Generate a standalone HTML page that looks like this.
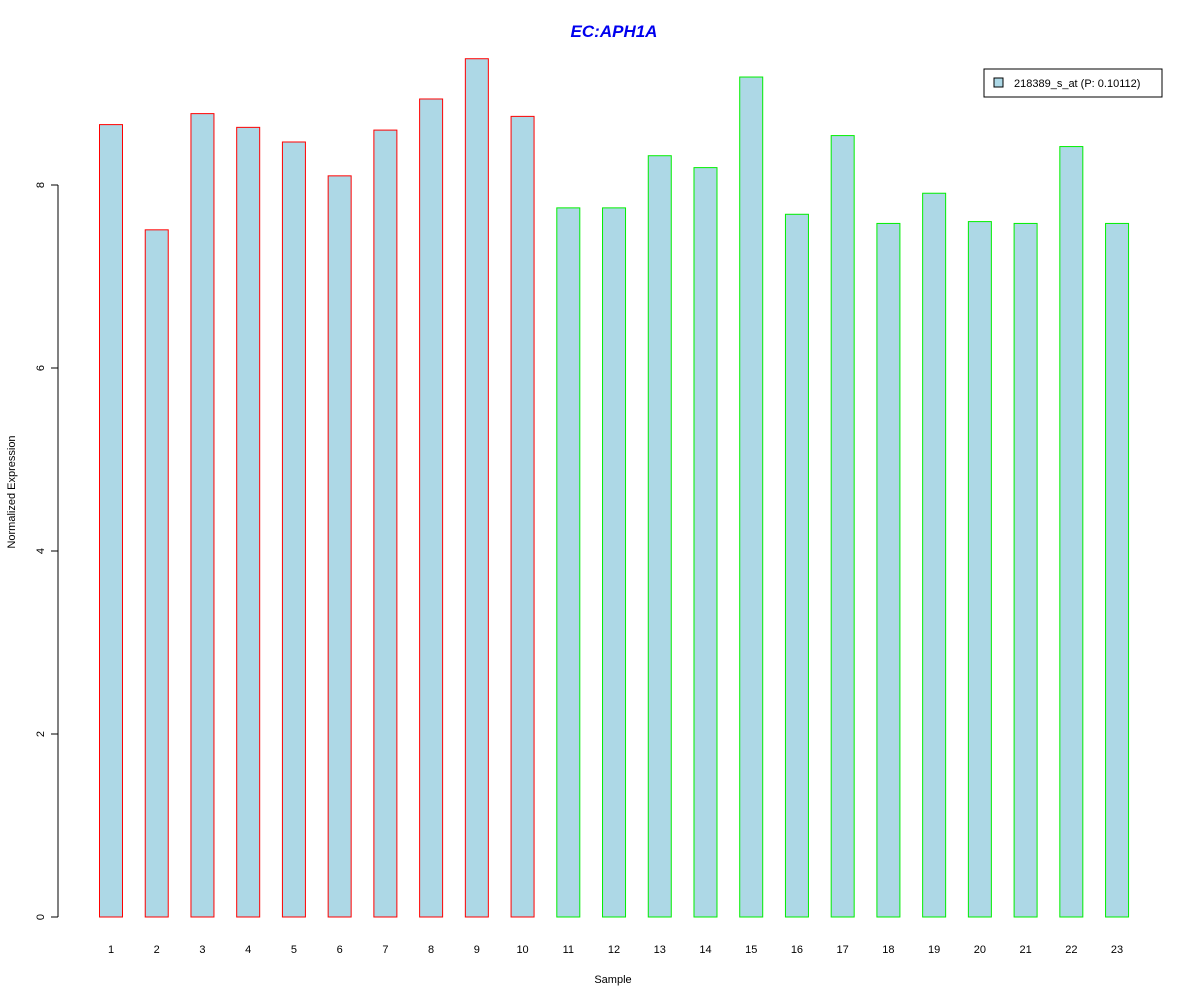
<!DOCTYPE html>
<html><head><meta charset="utf-8"><style>
html,body{margin:0;padding:0;background:#fff;}
svg{display:block;font-family:"Liberation Sans",Arial,sans-serif;}
</style></head><body>
<svg id="chart" width="1200" height="1000" viewBox="0 0 1200 1000">
<text x="614" y="37" text-anchor="middle" font-size="17" font-weight="bold" font-style="italic" fill="#0000ee">EC:APH1A</text>
<g id="yaxis"></g>
<g id="bars"></g>
<g id="xlabels"></g>
<text transform="translate(15,492) rotate(-90)" text-anchor="middle" font-size="11">Normalized Expression</text>
<text x="613" y="983" text-anchor="middle" font-size="11">Sample</text>
<g>
<rect x="984" y="69" width="178" height="28" fill="#fff" stroke="#000" stroke-width="1"/>
<rect x="994" y="78" width="9" height="9" fill="#add8e6" stroke="#000" stroke-width="1"/>
<text x="1014" y="87" font-size="11">218389_s_at (P: 0.10112)</text>
</g>
</svg>
<script>
const categories = ["1","2","3","4","5","6","7","8","9","10","11","12","13","14","15","16","17","18","19","20","21","22","23"];
const values = [8.66,7.51,8.78,8.63,8.47,8.10,8.60,8.94,9.38,8.75,7.75,7.75,8.32,8.19,9.18,7.68,8.54,7.58,7.91,7.60,7.58,8.42,7.58];
const groups = ["a","a","a","a","a","a","a","a","a","a","b","b","b","b","b","b","b","b","b","b","b","b","b"];
const yTicks = [0,2,4,6,8];
const NS="http://www.w3.org/2000/svg";
const y0=917, pxPerUnit=91.5;
function yScale(v){return y0 - v*pxPerUnit;}
function xScale(i){return 111 + i*45.73;}
function mk(tag,attrs,parent){const e=document.createElementNS(NS,tag);for(const k in attrs)e.setAttribute(k,attrs[k]);parent.appendChild(e);return e;}
const ya=document.getElementById('yaxis');
const yl=mk('line',{x1:58,x2:58,y1:yScale(yTicks[0]),y2:yScale(yTicks[yTicks.length-1]),stroke:'#000'},ya);


yTicks.forEach(t=>{
  const tk=mk('line',{x1:51,x2:58,y1:yScale(t),y2:yScale(t),stroke:'#000'},ya);
  
  
  const tx=mk('text',{transform:`translate(44,${yScale(t)}) rotate(-90)`,'text-anchor':'middle','font-size':11},ya);
  tx.textContent=t;
  
  
});
const bg=document.getElementById('bars'), xg=document.getElementById('xlabels');
values.forEach((v,i)=>{
  const cx=xScale(i), w=23;
  const r=mk('rect',{x:cx-w/2,y:yScale(v),width:w,height:y0-yScale(v),fill:'#add8e6',stroke:groups[i]==='a'?'#ff0000':'#00ee00','stroke-width':1},bg);
  
  
  const t=mk('text',{x:cx,y:953,'text-anchor':'middle','font-size':11},xg);
  t.textContent=categories[i];
  
  
});
</script>
</body></html>
